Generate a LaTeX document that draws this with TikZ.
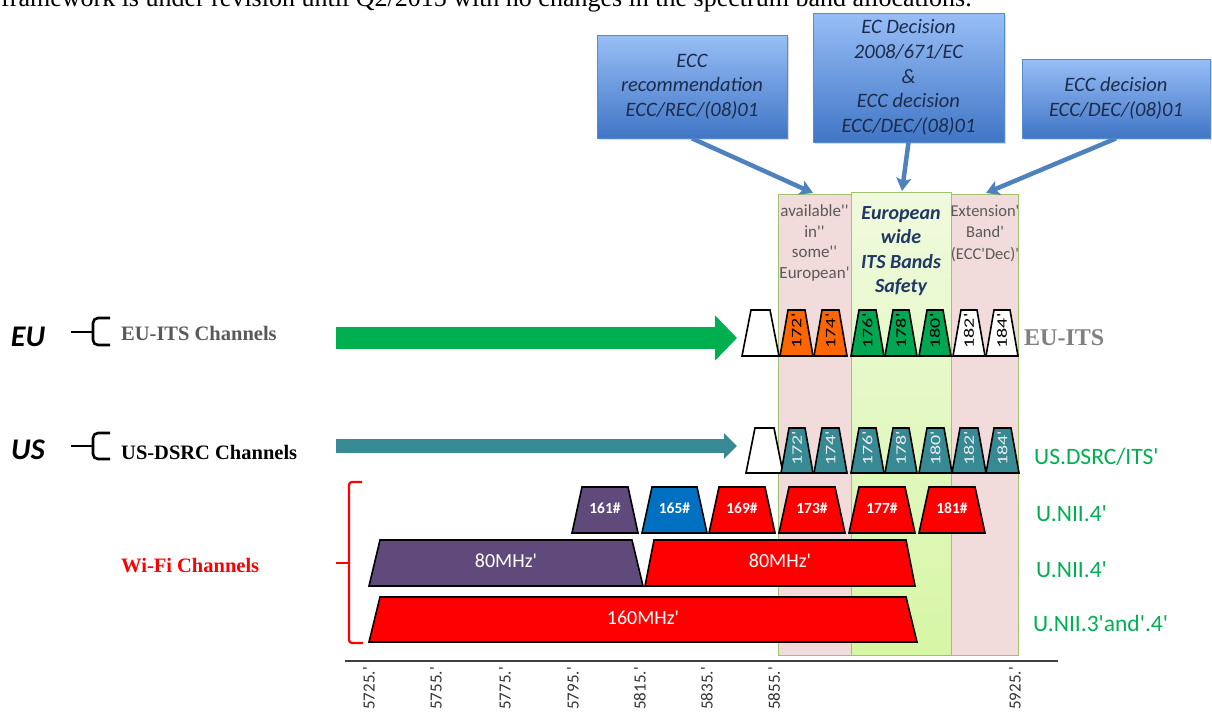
\documentclass[tikz,border=0pt]{standalone}
\usepackage{fontspec}
\usepackage{graphicx}
\setmainfont{Liberation Serif}
\newfontfamily\calfont[Ligatures=TeXOff]{Carlito}
\usetikzlibrary{arrows.meta,shadows}
\definecolor{boxtop}{RGB}{152,190,246}
\definecolor{boxbot}{RGB}{64,118,198}
\definecolor{boxedge}{RGB}{88,138,208}
\definecolor{boxtext}{RGB}{28,44,74}
\definecolor{arrowblue}{RGB}{79,129,189}
\definecolor{bandpink}{RGB}{242,220,219}
\definecolor{bandedge}{RGB}{160,195,110}
\definecolor{bgtop}{RGB}{240,250,222}
\definecolor{bgbot}{RGB}{214,246,165}
\definecolor{eugreen}{RGB}{0,176,80}
\definecolor{chgreen}{RGB}{0,166,81}
\definecolor{chorange}{RGB}{255,102,0}
\definecolor{tealc}{RGB}{55,137,148}
\definecolor{wpurple}{RGB}{96,74,123}
\definecolor{wblue}{RGB}{0,112,192}
\definecolor{labgreen}{RGB}{0,176,80}
\definecolor{bandtxt}{RGB}{89,89,89}
\definecolor{navytxt}{RGB}{31,56,100}
\definecolor{itsgray}{RGB}{128,128,128}
% #1 name, #2 x left, #3 x right, #4 y top, #5 y bottom, #6 inset, #7 fill, #8 label style, #9 label
\newcommand\chan[9]{%
  \draw[trapline,fill=#7] (#2,#5) -- (#2+#6,#4) -- (#3-#6,#4) -- (#3,#5) -- cycle;
  \node[#8] (#1) at ({(#2+#3)/2},{(#4+#5)/2-2}) {#9};}
\newcommand\rlab[1]{\scalebox{1.38}[1]{#1}}
\begin{document}
\begin{tikzpicture}[x=1pt,y=-1pt,
  trapline/.style={draw=black,line width=1.6pt,line join=miter},
  chlabk/.style={rotate=90,inner sep=0,font=\calfont\fontsize{14.5}{14.5}\selectfont,text=black},
  chlabw/.style={rotate=90,inner sep=0,font=\calfont\fontsize{14.5}{14.5}\selectfont,text=white!92!black},
  wlab/.style={inner sep=0,font=\calfont\bfseries\fontsize{15.5}{15.5}\selectfont,text=white},
  mhz/.style={inner sep=0,font=\calfont\fontsize{20}{20}\selectfont,text=white},
  nolab/.style={inner sep=0},
  bluebox/.style={draw=boxedge,line width=0.8pt,top color=boxtop,bottom color=boxbot,
    align=center,inner sep=2pt,text=boxtext,
    font=\calfont\itshape\fontsize{20.5}{24.6}\selectfont,
    drop shadow={opacity=0.3,shadow xshift=2pt,shadow yshift=-2pt}},
  bluearrow/.style={draw=arrowblue,line width=4.5pt,-{Stealth[length=13pt,width=15pt,inset=3pt]}},
  bandbox/.style={draw=bandedge,line width=0.9pt},
  bandlab/.style={align=center,inner sep=0,text=bandtxt},
  brk/.style={draw=black,line width=2.6pt,rounded corners=5pt},
  rightlab/.style={anchor=west,inner sep=0,text=labgreen,font=\calfont\fontsize{23.5}{23.5}\selectfont},
  leftlab/.style={anchor=west,inner sep=0,font=\bfseries\fontsize{20.5}{20.5}\selectfont},
  ticklab/.style={rotate=90,anchor=east,inner sep=0,text=black!80,font=\calfont\fontsize{17}{17}\selectfont}]
\useasboundingbox (0,0) rectangle (1212,712);
\clip (0,0) rectangle (1212,712);

% cut-off text line at the top
\node[anchor=base west,inner sep=0,font=\fontsize{26}{30}\selectfont] (toptext) at (1,6)
  {framework is under revision until Q2/2015 with no changes in the spectrum band allocations.};

% bands
\path[bandbox,fill=bandpink] (778,194) rectangle (851,655);
\path[bandbox,top color=bgtop,bottom color=bgbot] (851,192) rectangle (951,655);
\path[bandbox,fill=bandpink] (951,194) rectangle (1018,655);
\node[bandlab,font=\calfont\fontsize{17}{20.7}\selectfont] (bandA) at (814.5,243)
  {available''\\in''\\some''\\European'};
\node[bandlab,text=navytxt,font=\calfont\bfseries\itshape\fontsize{20}{24.6}\selectfont] (bandB) at (901,251)
  {European\\wide\\ITS Bands\\Safety};
\node[bandlab,font=\calfont\fontsize{16.5}{21.5}\selectfont] (bandC) at (985,233)
  {Extension'\\Band'\\(ECC'Dec)'};

% blue boxes and arrows
\node[bluebox,minimum width=190,minimum height=103] (b1) at (692,86.5)
  {ECC\\recommendation\\ECC/REC/(08)01};
\node[bluebox,minimum width=191,minimum height=129] (b2) at (908.5,77.5)
  {EC Decision\\2008/671/EC\\\&\\ECC decision\\ECC/DEC/(08)01};
\node[bluebox,minimum width=188,minimum height=79] (b3) at (1116,98.5)
  {ECC decision\\ECC/DEC/(08)01};
\coordinate (tipA) at (813,193);
\coordinate (tipB) at (902,191);
\coordinate (tipC) at (986,193);
\draw[bluearrow] (b1.south) -- (tipA);
\draw[bluearrow] (b2.south) -- (tipB);
\draw[bluearrow] (b3.south) -- (tipC);

% left labels
\node[inner sep=0,font=\calfont\bfseries\itshape\fontsize{30}{30}\selectfont] (eu) at (28,337) {EU};
\node[inner sep=0,font=\calfont\bfseries\itshape\fontsize{30}{30}\selectfont] (us) at (28,450) {US};
\draw[brk] (110,318) -- (93,318) -- (93,345) -- (110,345);
\draw[draw=black,line width=2.6pt] (71,332) -- (93,332);
\draw[brk] (110,433) -- (93,433) -- (93,459) -- (110,459);
\draw[draw=black,line width=2.6pt] (71,446) -- (93,446);
\node[leftlab,text=black!65] (euch) at (121,333) {EU-ITS Channels};
\node[leftlab,text=black] (usch) at (121,452) {US-DSRC Channels};
\node[leftlab,text=red] (wifich) at (121,566) {Wi-Fi Channels};
\draw[red,line width=2.2pt,rounded corners=3pt] (362,482) -- (349,482) -- (349,643) -- (363,643);
\draw[red,line width=2.2pt] (336,563) -- (349,563);

% big arrows
\coordinate (euS) at (336,338);
\coordinate (euE) at (737,338);
\coordinate (usS) at (336,446);
\coordinate (usE) at (737,446);
\draw[eugreen,line width=22pt,-{Triangle[length=22pt,width=44pt]}] (euS) -- (euE);
\draw[tealc,line width=14pt,-{Triangle[length=13pt,width=25pt]}] (usS) -- (usE);

% EU-ITS channels
\chan{euw}{742}{779}{310}{356}{9}{white}{nolab}{}
\chan{eu172}{780}{813}{310}{356}{8}{chorange}{chlabk}{\rlab{172'}}
\chan{eu174}{814}{847}{310}{356}{8}{chorange}{chlabk}{\rlab{174'}}
\chan{eu176}{851}{884}{310}{356}{8}{chgreen}{chlabk}{\rlab{176'}}
\chan{eu178}{885}{917}{310}{356}{8}{chgreen}{chlabk}{\rlab{178'}}
\chan{eu180}{919}{951}{310}{356}{8}{chgreen}{chlabk}{\rlab{180'}}
\chan{eu182}{953}{985}{310}{356}{8}{white}{chlabk}{\rlab{182'}}
\chan{eu184}{986}{1018}{310}{356}{8}{white}{chlabk}{\rlab{184'}}

% US-DSRC channels
\chan{usw}{746}{783}{428}{473}{9}{white}{nolab}{}
\chan{us172}{781}{813}{428}{473}{8}{tealc}{chlabw}{\rlab{172'}}
\chan{us174}{814}{847}{428}{473}{8}{tealc}{chlabw}{\rlab{174'}}
\chan{us176}{851}{884}{428}{473}{8}{tealc}{chlabw}{\rlab{176'}}
\chan{us178}{885}{917}{428}{473}{8}{tealc}{chlabw}{\rlab{178'}}
\chan{us180}{919}{952}{428}{473}{8}{tealc}{chlabw}{\rlab{180'}}
\chan{us182}{952}{986}{428}{473}{8}{tealc}{chlabw}{\rlab{182'}}
\chan{us184}{986}{1019}{428}{473}{8}{tealc}{chlabw}{\rlab{184'}}

% Wi-Fi channels
\chan{w161}{572}{638}{487}{533}{10}{wpurple}{wlab}{161\#}
\chan{w165}{642}{707}{487}{533}{10}{wblue}{wlab}{165\#}
\chan{w169}{709}{775}{487}{533}{10}{red}{wlab}{169\#}
\chan{w173}{779}{845}{487}{533}{10}{red}{wlab}{173\#}
\chan{w177}{849}{915}{487}{533}{10}{red}{wlab}{177\#}
\chan{w181}{919}{985}{487}{533}{10}{red}{wlab}{181\#}
\chan{w80a}{369}{643}{540}{586}{11}{wpurple}{mhz}{80MHz'}
\chan{w80b}{645}{915}{540}{586}{9}{red}{mhz}{80MHz'}
\chan{w160}{369}{917}{597}{642}{11}{red}{mhz}{160MHz'}

% right labels
\node[anchor=west,inner sep=0,text=itsgray,font=\bfseries\fontsize{24}{24}\selectfont] (euits) at (1024,338) {EU-ITS};
\node[rightlab] (usits) at (1034,457) {US.DSRC/ITS'};
\node[rightlab] (unii4a) at (1036,514) {U.NII.4'};
\node[rightlab] (unii4b) at (1036,570) {U.NII.4'};
\node[rightlab] (unii34) at (1033,623) {U.NII.3'and'.4'};

% frequency axis
\coordinate (axL) at (345,661);
\coordinate (axR) at (1058,661);
\draw[black!75,line width=1.4pt] (axL) -- (axR);
\node[ticklab] (t5725) at (369,667) {5725.'};
\node[ticklab] (t5755) at (436,667) {5755.'};
\node[ticklab] (t5775) at (505,667) {5775.'};
\node[ticklab] (t5795) at (573,667) {5795.'};
\node[ticklab] (t5815) at (640,667) {5815.'};
\node[ticklab] (t5835) at (707,667) {5835.'};
\node[ticklab] (t5855) at (774,667) {5855.'};
\node[ticklab] (t5925) at (1015,667) {5925.'};
\end{tikzpicture}
\end{document}
